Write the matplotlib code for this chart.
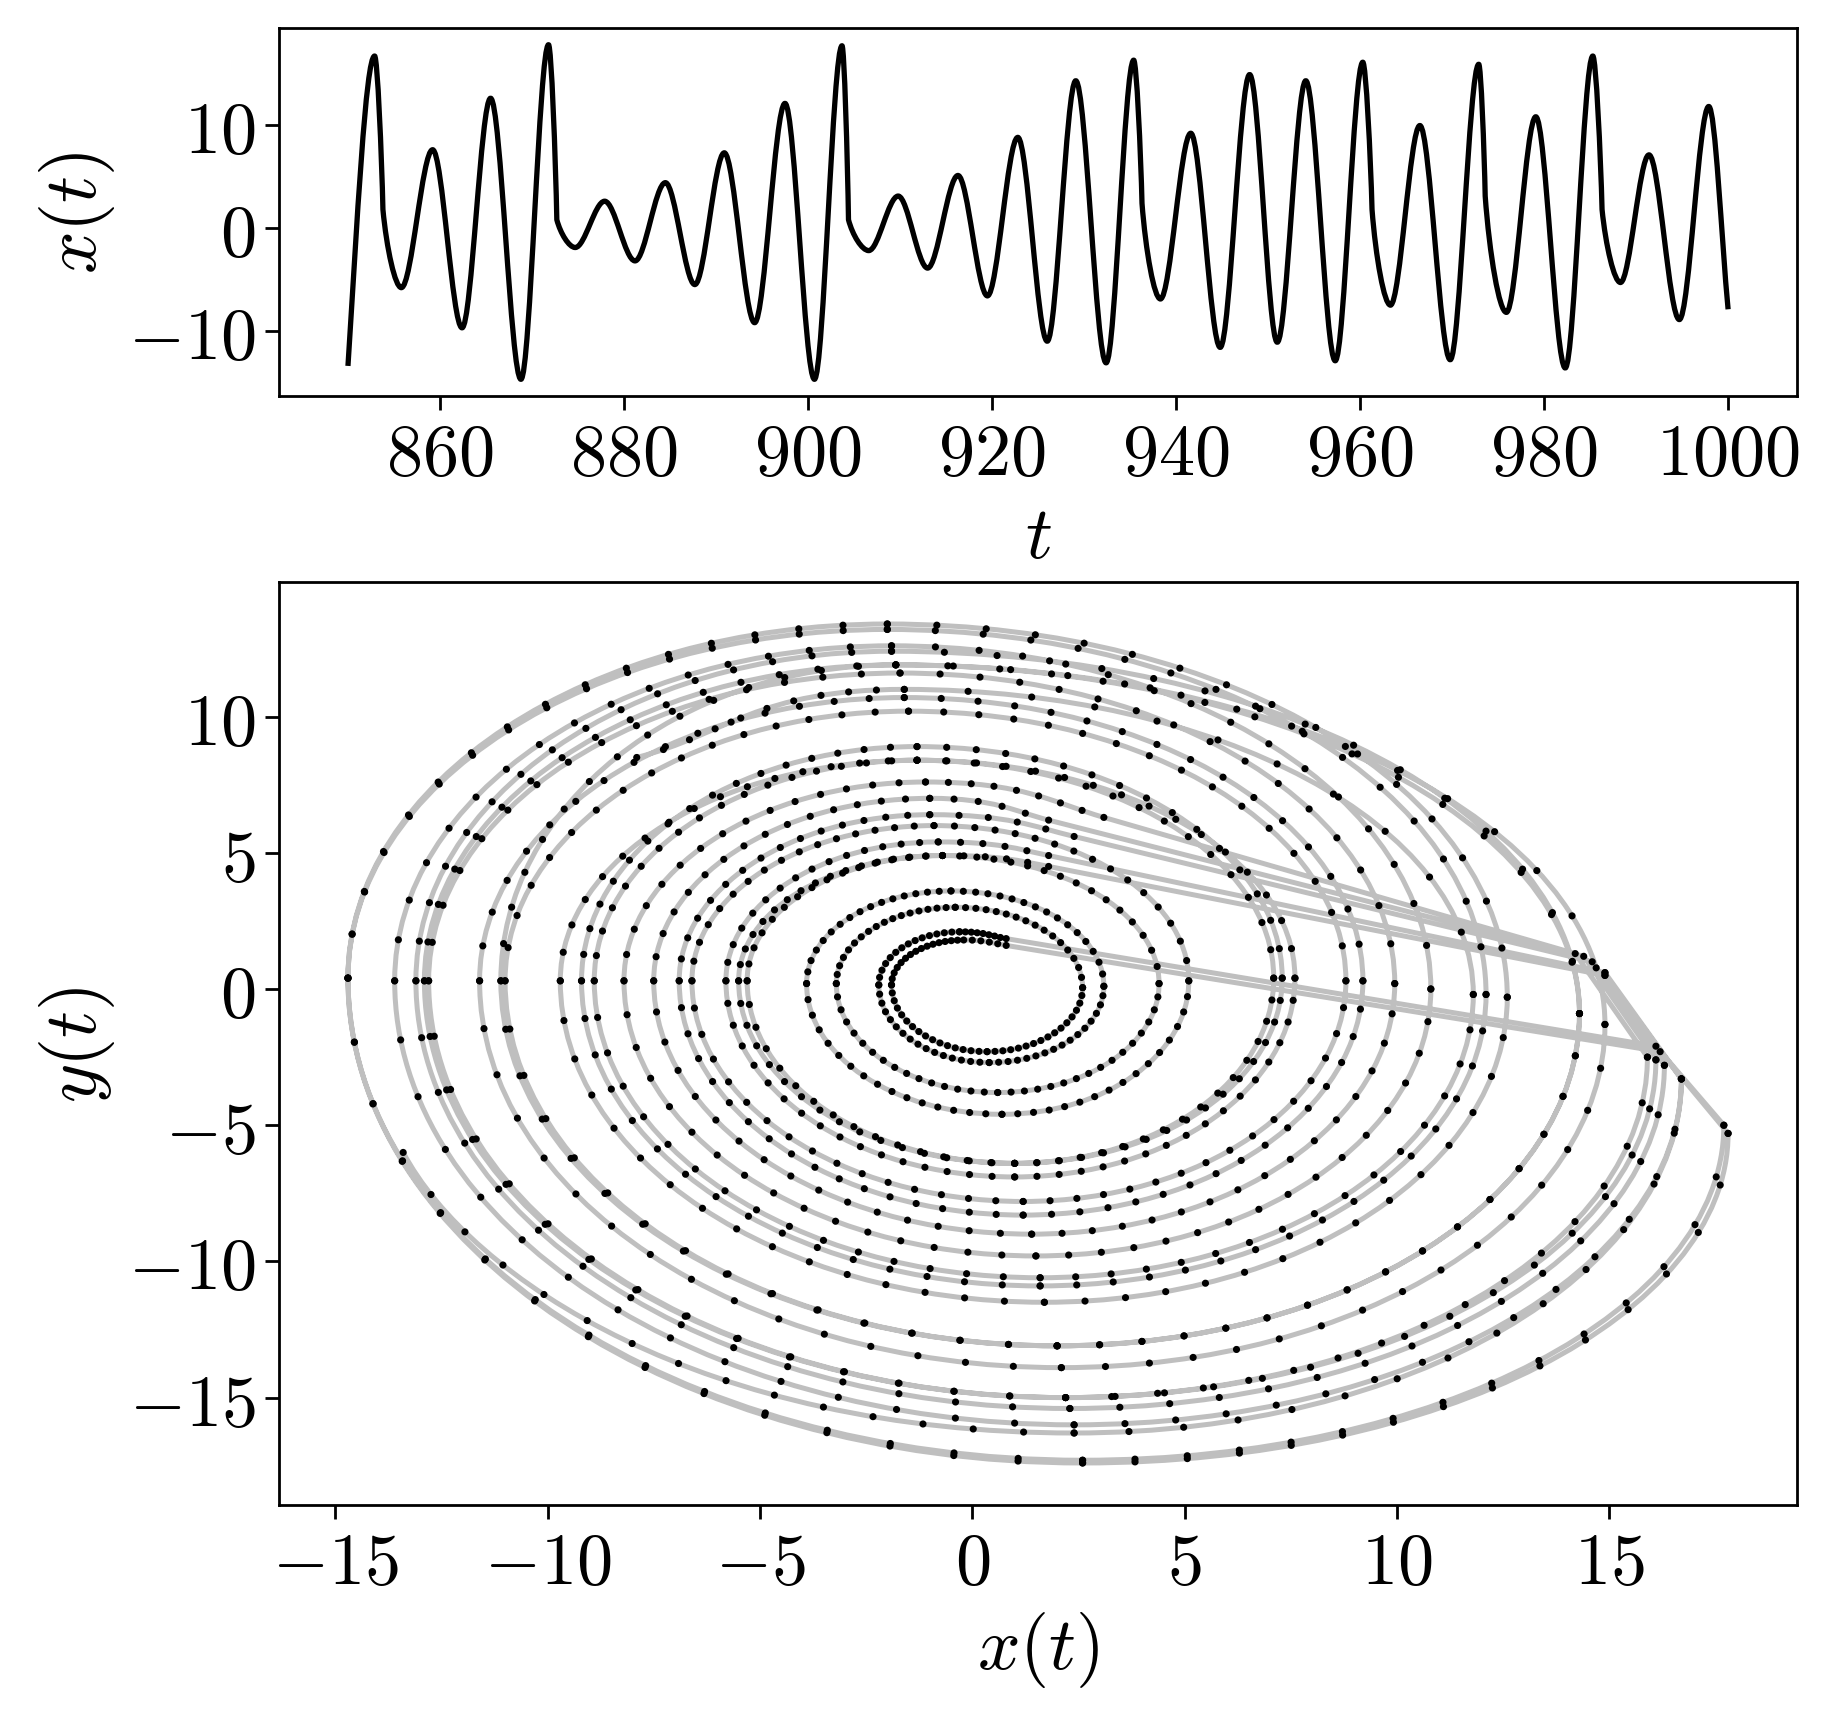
import numpy as np
import matplotlib
matplotlib.use('Agg')
import matplotlib.pyplot as plt
from matplotlib.path import Path
from matplotlib.patches import PathPatch
from matplotlib.bezier import BezierSegment
from matplotlib.ticker import FuncFormatter

plt.rcParams['mathtext.fontset'] = 'cm'
plt.rcParams['lines.scale_dashes'] = False

# ---- x(t), upper panel: local maxima / minima
t_first, x_first = 850.0, -13.4
t_last, x_last = 1000.0, -7.9
t_peak = [852.9, 859.2, 865.5, 871.8, 877.9, 884.5, 890.9, 897.5, 903.7, 909.8, 916.3, 922.8,
          929.1, 935.4, 941.6, 948.0, 954.1, 960.3, 966.5, 972.9, 979.1, 985.3, 991.4, 997.9]
x_peak = [16.7, 7.6, 12.6, 17.8, 2.6, 4.4, 7.3, 12.1, 17.7, 3.1, 5.1, 8.8,
          14.3, 16.3, 9.2, 14.9, 14.3, 16.1, 9.95, 15.9, 10.8, 16.7, 7.1, 11.8]
t_trough = [855.8, 862.4, 868.8, 874.7, 881.2, 887.7, 894.2, 900.7, 906.6, 913.0, 919.5, 926.0,
            932.4, 938.3, 944.8, 951.0, 957.3, 963.3, 969.8, 975.9, 982.3, 988.3, 994.7]
x_trough = [-5.8, -9.7, -14.7, -1.9, -3.2, -5.5, -9.2, -14.7, -2.2, -3.9, -6.6, -11.0,
            -13.1, -6.9, -11.6, -11.1, -12.9, -7.5, -12.8, -8.2, -13.6, -5.3, -8.9]
# spikes followed by a fast drop (index into the peak list) and where the drop ends
reinj = [0, 3, 8, 13, 17, 19, 21]
t_kink = [853.8, 872.7, 904.4, 936.3, 961.3, 973.6, 986.3]
x_kink = [1.8, 0.8, 0.8, 2.4, 1.8, 3.1, 1.8]

# ---- phase plane (x, y), lower panel
y_first, y_last = -6.0, 8.5
y_peak = [-3.3, 0.4, -0.3, -5.3, 0.05, 0.2, 0.4, -0.2, -5.0, 0.1, 0.3, 0.3,
          -0.9, -2.8, 0.3, -1.3, -0.9, -2.6, 0.2, -2.5, 0.0, -3.3, 0.4, -0.2]
y_trough = [0.3, 0.3, 0.4, 0.15, 0.2, 0.3, 0.3, 0.4, 0.15, 0.2, 0.3, 0.3,
            0.3, 0.3, 0.3, 0.3, 0.3, 0.3, 0.3, 0.3, 0.3, 0.3, 0.3]
x_top = [-0.8, -1.3, -2.0, -0.2, -0.4, -0.7, -1.3, -2.0, -0.3, -0.5, -0.9, -1.5,
         -1.9, -1.0, -1.6, -1.8, -1.8, -1.0, -1.7, -1.1, -1.9, -0.7, -1.3, -1.6]
y_top = [5.4, 8.4, 13.4, 1.8, 3.0, 4.9, 8.9, 13.2, 2.1, 3.6, 6.0, 10.2,
         12.4, 6.4, 10.7, 11.9, 11.9, 7.0, 11.6, 7.6, 12.6, 4.9, 8.4, 11.0]
x_bot = [2.4, 1.0, 1.7, 2.6, 0.35, 0.6, 1.0, 1.6, 2.6, 0.4, 0.7, 1.2,
         2.0, 2.3, 1.2, 2.1, 2.0, 2.2, 1.4, 2.2, 1.5, 2.4, 1.0, 1.6]
y_bot = [-16.3, -6.9, -11.5, -17.4, -2.3, -3.8, -6.4, -10.9, -17.3, -2.7, -4.6, -7.8,
         -13.1, -15.4, -8.3, -13.9, -13.1, -15.0, -9.0, -15.0, -9.8, -16.0, -6.4, -10.6]
x_turn = [14.9, 16.2, 16.1, 14.6, 14.4, 14.2, 14.9]
y_turn = [0.6, -2.3, -2.1, 1.0, 1.2, 1.3, 0.5]
y_land = [4.9, 1.6, 1.85, 5.6, 6.2, 6.3, 4.5]

t_ticks = [860, 880, 900, 920, 940, 960, 980, 1000]
xt_ticks = [-10, 0, 10]
x_ticks = [-15, -10, -5, 0, 5, 10, 15]
y_ticks = [-15, -10, -5, 0, 5, 10]

dt = 0.1
k = 0.5523
fs = 26

fig = plt.figure(figsize=(9.14, 8.62), dpi=200)
ax1 = fig.add_axes([0.1526, 0.7697, 0.8305, 0.2135])
ax2 = fig.add_axes([0.1526, 0.1265, 0.8305, 0.5353])

# ---------------- upper panel
knots = [(t_first, x_first, 'start')]
for i in range(len(t_peak)):
    knots.append((t_peak[i], x_peak[i], 'ext'))
    if i in reinj:
        j = reinj.index(i)
        knots.append((t_kink[j], x_kink[j], 'kink'))
    if i < len(t_trough):
        knots.append((t_trough[i], x_trough[i], 'ext'))
knots.append((t_last, x_last, 'end'))

verts = [knots[0][:2]]
codes = [Path.MOVETO]
for (t0, x0, k0), (t1, x1, k1) in zip(knots[:-1], knots[1:]):
    d = t1 - t0
    if k0 == 'start':
        c1 = (t0 + d / 3, x0 + (x1 - x0) * 0.45)
    elif k0 == 'kink':
        c1 = (t0 + d * 0.2, x0 + (x1 - x0) * 0.5)
    else:
        c1 = (t0 + d / 3, x0)
    if k1 == 'kink':
        c2 = (t1 - d * 0.15, x1 + (x0 - x1) * 0.35)
    elif k1 == 'end':
        c2 = (t1 - d / 3, x1 + (x0 - x1) / 3)
    else:
        c2 = (t1 - d / 3, x1)
    verts += [c1, c2, (t1, x1)]
    codes += [Path.CURVE4] * 3
ax1.add_patch(PathPatch(Path(verts, codes), facecolor='none', edgecolor='black', lw=1.9,
                        joinstyle='round', capstyle='butt'))
ax1.autoscale_view()
ax1.set_xticks(t_ticks)
ax1.set_yticks(xt_ticks)
ax1.set_xlabel('$t$', fontsize=fs + 1)
ax1.set_ylabel('$x(t)$', fontsize=fs + 1)

# ---------------- lower panel: way points of the orbit in time order
pts = [(x_first, y_first, t_first, 's')]
links = []
t_prev = t_first
for i in range(len(t_peak)):
    pts.append((x_bot[i], y_bot[i], (t_prev + t_peak[i]) / 2, 'h')); links.append('c')
    pts.append((x_peak[i], y_peak[i], t_peak[i], 'v')); links.append('c')
    t_from = t_peak[i]
    if i in reinj:
        j = reinj.index(i)
        pts.append((x_turn[j], y_turn[j], t_peak[i] + dt, 'd')); links.append('l')
        pts.append((x_kink[j], y_land[j], t_kink[j], 'd')); links.append('l')
        t_from = t_kink[j]
    if i < len(t_trough):
        nxt = (x_trough[i], y_trough[i], t_trough[i], 'v')
    else:
        nxt = (x_last, y_last, t_last, 'f')
    t_top = max(t_from + 0.3, nxt[2] - (nxt[2] - t_peak[i]) / 2)
    pts.append((x_top[i], y_top[i], t_top, 'h')); links.append('c')
    pts.append(nxt); links.append('c')
    t_prev = nxt[2]


def depart(pp, p0, p1):
    x0, y0, _, a = p0
    x1, y1 = p1[0], p1[1]
    if a == 'v':
        return (x0, y0 + k * (y1 - y0))
    if a == 'h':
        return (x0 + k * (x1 - x0), y0)
    if a == 's':
        return (x0 + 0.1 * (x1 - x0), y0 + 0.45 * (y1 - y0))
    ch = np.hypot(x1 - x0, y1 - y0)
    if a == 'd':
        u = np.array([x0 - pp[0], y0 - pp[1]])
        u = u / np.hypot(*u)
        return (x0 + 0.3 * ch * u[0], y0 + 0.3 * ch * u[1])
    return (x0 + (x1 - x0) / 3, y0 + (y1 - y0) / 3)


def arrive(p0, p1):
    x0, y0 = p0[0], p0[1]
    x1, y1, _, a = p1
    if a == 'v':
        return (x1, y1 - k * (y1 - y0))
    if a == 'h':
        return (x1 - k * (x1 - x0), y1)
    return (x1 - (x1 - x0) / 3, y1 - (y1 - y0) / 3)


segs = []
for n in range(len(links)):
    p0, p1 = pts[n], pts[n + 1]
    if links[n] == 'l':
        segs.append(([p0[:2], p1[:2]], [Path.MOVETO, Path.LINETO], p1[2] - p0[2], 'l'))
    else:
        pp = pts[n - 1] if n > 0 else p0
        c1 = depart(pp, p0, p1)
        c2 = arrive(p0, p1)
        segs.append(([p0[:2], c1, c2, p1[:2]], [Path.MOVETO] + [Path.CURVE4] * 3,
                     p1[2] - p0[2], 'c'))

all_v = [segs[0][0][0]]
all_c = [Path.MOVETO]
for v, c, _, _ in segs:
    all_v += v[1:]
    all_c += c[1:]
ax2.add_patch(PathPatch(Path(all_v, all_c), facecolor='none', edgecolor='#bfbfbf', lw=1.8,
                        joinstyle='round', capstyle='round', zorder=2))
ax2.autoscale_view()
ax2.set_xticks(x_ticks)
ax2.set_yticks(y_ticks)
ax2.get_xlim()

# sample dots: one every dt along each piece of the orbit
for v, c, dur, kind in segs:
    disp = ax2.transData.transform(np.array(v, dtype=float))
    if kind == 'l':
        length = np.hypot(*(disp[1] - disp[0]))
        nd = 1
    else:
        s = BezierSegment(disp)(np.linspace(0, 1, 40))
        length = np.hypot(*np.diff(s, axis=0).T).sum()
        nd = max(1, int(round(dur / dt)))
    gap = length * 72 / fig.dpi / nd
    ax2.add_patch(PathPatch(Path(v, c), facecolor='none', edgecolor='black', lw=2.6,
                            linestyle=(0, (0.001, gap - 0.001)), capstyle='round', zorder=3))

ax2.set_xlabel('$x(t)$', fontsize=fs + 1)
ax2.set_ylabel('$y(t)$', fontsize=fs + 1)

fmt = FuncFormatter(lambda v, _: f'${v:g}$')
for ax in (ax1, ax2):
    ax.xaxis.set_major_formatter(fmt)
    ax.yaxis.set_major_formatter(fmt)
    ax.tick_params(labelsize=fs, width=1.0, length=5)
    for s in ax.spines.values():
        s.set_linewidth(1.0)

fig.savefig('out.png', dpi=200)
